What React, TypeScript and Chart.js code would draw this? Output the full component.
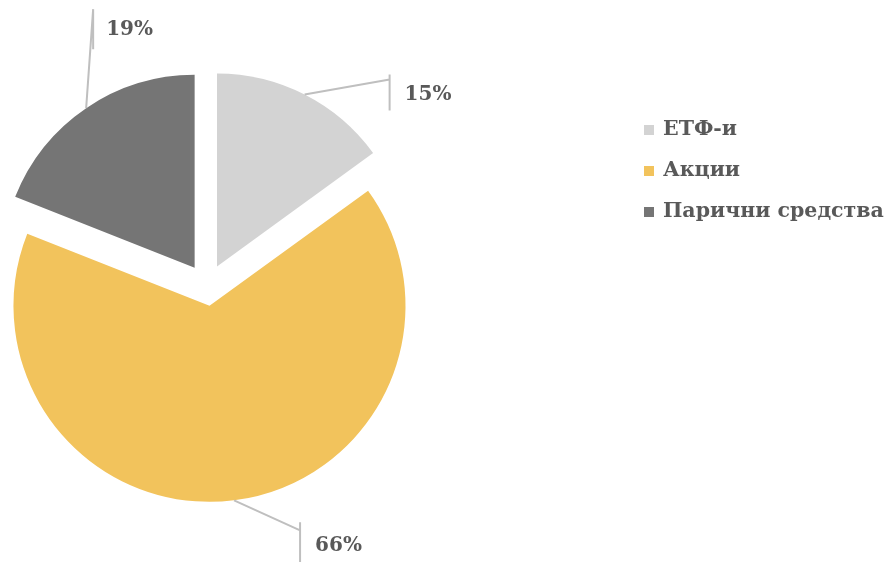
import React, { useEffect, useRef } from "react";
import { Chart, registerables } from "chart.js";

Chart.register(...registerables);

const categories = ["ЕТФ-и", "Акции", "Парични средства"];
const values = [15, 66, 19];
const percentLabels = ["15%", "66%", "19%"];
const colors = ["#d3d3d3", "#f2c35c", "#757575"];

const EXPLODE = [22, 20, 22];
const RADIUS_EXTRA = [0, 3, 0];
const TEXT_COLOR = "#595959";
const LEADER_COLOR = "#bfbfbf";
const FONT = "bold 20px 'DejaVu Serif', serif";
const LEGEND_FONT = "bold 20.5px 'DejaVu Serif', serif";

// label layout relative to the arc mid-point (annotation placement)
const labelLayout = [
  { dx: 85, dy: -15, barTop: -5, barBot: 31, textDx: 15, textDy: 15 },
  { dx: 66, dy: 30, barTop: -8, barBot: 40, textDx: 15, textDy: 16 },
  { dx: 7, dy: -99, barTop: 0, barBot: 40, textDx: 13, textDy: 21 },
];

const explodePlugin = {
  id: "explodeAndLabels",
  beforeDatasetDraw(chart: any, args: any) {
    const meta = chart.getDatasetMeta(args.index);
    const ctx = chart.ctx;
    meta.data.forEach((arc: any, i: number) => {
      const mid = (arc.startAngle + arc.endAngle) / 2;
      const r0 = arc.outerRadius;
      arc.outerRadius = r0 + RADIUS_EXTRA[i];
      ctx.save();
      ctx.translate(Math.cos(mid) * EXPLODE[i], Math.sin(mid) * EXPLODE[i]);
      arc.draw(ctx, chart.chartArea);
      ctx.restore();
      arc.outerRadius = r0;
    });
    return false;
  },
  afterDatasetsDraw(chart: any) {
    const ctx = chart.ctx;
    const meta = chart.getDatasetMeta(0);
    meta.data.forEach((arc: any, i: number) => {
      const mid = (arc.startAngle + arc.endAngle) / 2;
      const cx = arc.x + Math.cos(mid) * EXPLODE[i];
      const cy = arc.y + Math.sin(mid) * EXPLODE[i];
      const r = arc.outerRadius + RADIUS_EXTRA[i];
      const px = cx + Math.cos(mid) * r;
      const py = cy + Math.sin(mid) * r;
      const L = labelLayout[i];
      const ex = px + L.dx;
      const ey = py + L.dy;
      ctx.save();
      ctx.strokeStyle = LEADER_COLOR;
      ctx.lineWidth = 2;
      ctx.beginPath();
      ctx.moveTo(px, py);
      ctx.lineTo(ex, ey);
      ctx.moveTo(ex, ey + L.barTop);
      ctx.lineTo(ex, ey + L.barBot);
      ctx.stroke();
      ctx.fillStyle = TEXT_COLOR;
      ctx.font = FONT;
      ctx.textAlign = "left";
      ctx.textBaseline = "middle";
      ctx.fillText(percentLabels[i], ex + L.textDx, ey + L.textDy);
      ctx.restore();
    });
    // legend
    const lx = 644;
    const ly0 = 130;
    const step = 41;
    ctx.save();
    ctx.font = LEGEND_FONT;
    ctx.textBaseline = "middle";
    ctx.textAlign = "left";
    categories.forEach((c, i) => {
      const y = ly0 + i * step;
      ctx.fillStyle = colors[i];
      ctx.fillRect(lx, y - 5, 10, 10);
      ctx.fillStyle = TEXT_COLOR;
      ctx.fillText(c, lx + 19, y);
    });
    ctx.restore();
  },
};

export default function App() {
  const ref = useRef<HTMLCanvasElement>(null);
  useEffect(() => {
    const chart = new Chart(ref.current as HTMLCanvasElement, {
      type: "pie",
      data: {
        labels: categories,
        datasets: [
          {
            data: values,
            backgroundColor: colors,
            borderWidth: 0,
            offset: 0,
          },
        ],
      },
      options: {
        animation: false,
        responsive: false,
        maintainAspectRatio: false,
        layout: { padding: { left: 14, top: 93, right: 488, bottom: 83 } },
        plugins: {
          legend: { display: false },
          tooltip: { enabled: false },
        },
      },
      plugins: [explodePlugin],
    });
    return () => chart.destroy();
  }, []);
  return (
    <div style={{ position: "fixed", left: 0, top: 0, width: 888, height: 562, background: "#fff" }}>
      <canvas ref={ref} width={888} height={562} />
    </div>
  );
}
